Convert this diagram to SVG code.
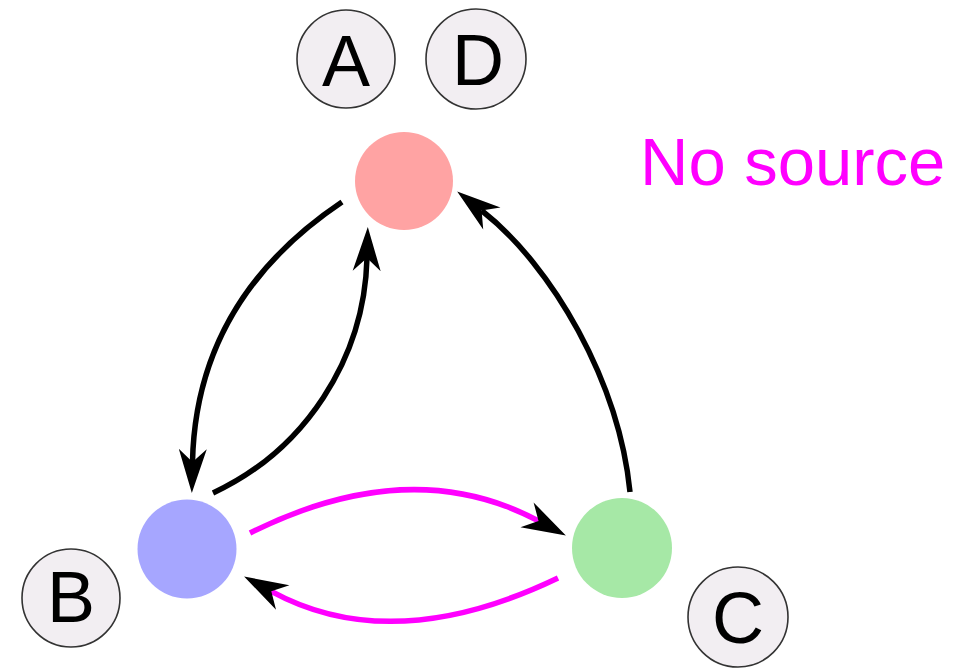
<svg xmlns="http://www.w3.org/2000/svg" width="970" height="668" viewBox="0 0 970 668">
<style>
.lbl circle{fill:#f2eef2;stroke:#333;stroke-width:1.6}
.lbl text{font-family:"Liberation Sans",Arial,sans-serif;font-size:72px;text-anchor:middle;fill:#000}
.e{fill:none;stroke-width:5.5}
.k{stroke:#000}
.m{stroke:#ff00ff}
</style>
<defs>
<marker id="ah" markerUnits="userSpaceOnUse" markerWidth="80" markerHeight="80" refX="0" refY="0" orient="auto" overflow="visible">
<path d="M31,0 L-13,-14 L0,0 L-13,14 Z" fill="#000"/>
</marker>
</defs>
<rect width="970" height="668" fill="#fff"/>
<g id="edges">
<path class="e k" d="M342,202 Q196,300 192.5,462" marker-end="url(#ah)"/>
<path class="e k" d="M213,493 A267,267 0 0 0 367,258" marker-end="url(#ah)"/>
<path class="e k" d="M630,492 C619,382 552.5,266 481.6,210.5" marker-end="url(#ah)"/>
<path class="e m" d="M250,533 Q410.5,452.8 538.5,520.9" marker-end="url(#ah)"/>
<path class="e m" d="M558,578 Q392.6,657.4 271.3,591.3" marker-end="url(#ah)"/>
</g>
<g id="node-red"><circle cx="404" cy="181" r="49" fill="#ffa3a3"/></g>
<g id="node-blue"><circle cx="187" cy="549" r="49.5" fill="#a6a6ff"/></g>
<g id="node-green"><circle cx="622" cy="548" r="50" fill="#a6e8a6"/></g>
<g id="label-A" class="lbl"><circle cx="346" cy="59" r="49"/><text x="346" y="86">A</text></g>
<g id="label-D" class="lbl"><circle cx="476" cy="59" r="50"/><text x="478" y="85">D</text></g>
<g id="label-B" class="lbl"><circle cx="71" cy="598" r="49"/><text x="71" y="622">B</text></g>
<g id="label-C" class="lbl"><circle cx="738" cy="617" r="50"/><text x="738" y="643">C</text></g>
<text id="no-source" x="640" y="185" font-family="'Liberation Sans',Arial,sans-serif" font-size="67" fill="#ff00ff">No source</text>
</svg>
